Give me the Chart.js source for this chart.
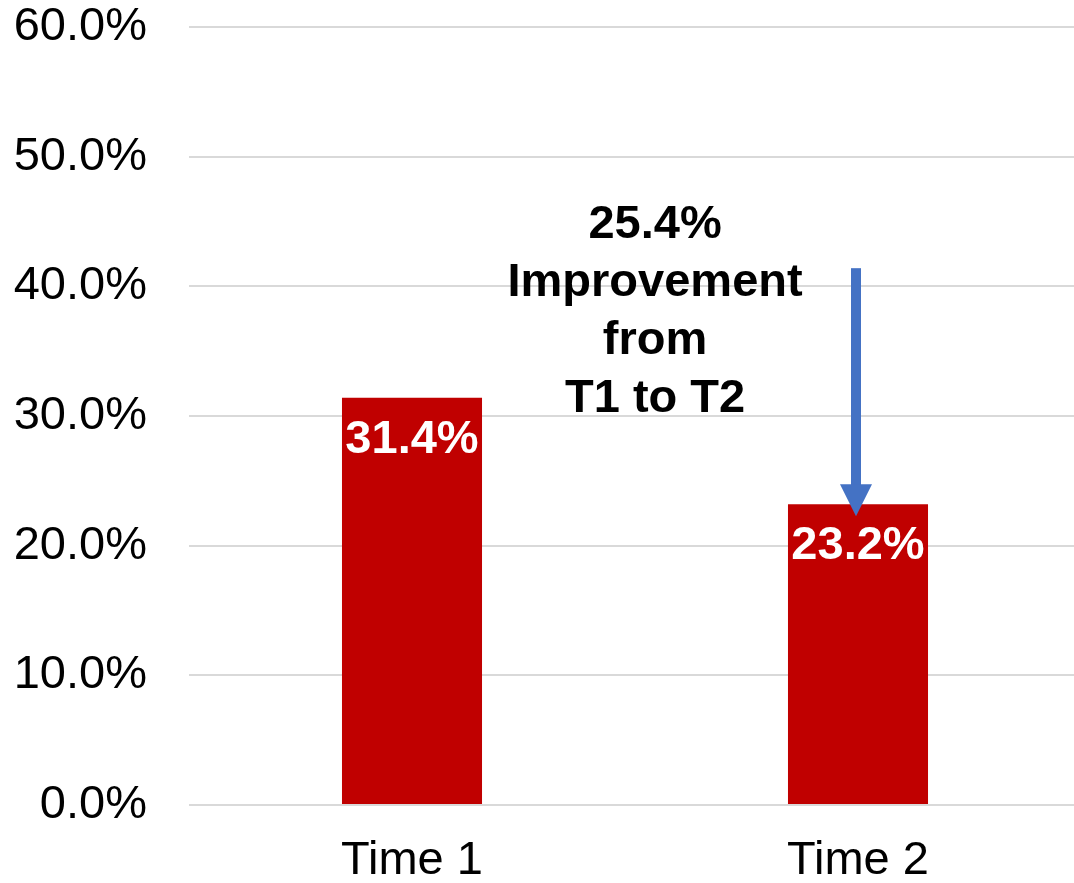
<!DOCTYPE html>
<html>
<head>
<meta charset="utf-8">
<title>Time 1 vs Time 2</title>
<script src="https://cdn.jsdelivr.net/npm/chart.js@4/dist/chart.umd.min.js"></script>
<style>
  html, body { margin: 0; padding: 0; background: #ffffff; }
  #wrap { position: relative; width: 1074px; height: 883px; }
</style>
</head>
<body>
<div id="wrap"><canvas id="chart"></canvas></div>
<script>
// Rates at the two measurement points (percent)
const categories = ['Time 1', 'Time 2'];
const rates = [31.4, 23.2];
const yTicks = [0, 10, 20, 30, 40, 50, 60];
const noteLines = ['25.4%', 'Improvement', 'from', 'T1 to T2'];

const FONT = '"Liberation Sans", Arial, Helvetica, sans-serif';
const BAR_RED = '#C00000';
const ARROW_BLUE = '#4472C4';
const GRID_GREY = '#D9D9D9';

// Let the plot area run a little past the right edge of the canvas
const widenPlot = {
  id: 'widenPlot',
  afterLayout(chart) {
    const extra = 7;
    const xs = chart.scales.x;
    xs.right += extra;
    xs.width += extra;
    xs.configure();
    chart.chartArea.right += extra;
    chart.chartArea.width = chart.chartArea.right - chart.chartArea.left;
  }
};

// Value labels printed in white inside the top of each bar
const barValueLabels = {
  id: 'barValueLabels',
  afterDatasetsDraw(chart) {
    const ctx = chart.ctx;
    const meta = chart.getDatasetMeta(0);
    ctx.save();
    ctx.fillStyle = '#ffffff';
    ctx.font = 'bold 47px ' + FONT;
    ctx.textAlign = 'center';
    ctx.textBaseline = 'middle';
    meta.data.forEach((bar, i) => {
      ctx.fillText(rates[i].toFixed(1) + '%', bar.x, bar.y + 42);
    });
    ctx.restore();
  }
};

// Callout text and the downward arrow onto the second bar
const changeCallout = {
  id: 'changeCallout',
  afterDraw(chart) {
    const ctx = chart.ctx;
    const x = chart.scales.x;
    const y = chart.scales.y;
    const bar2 = chart.getDatasetMeta(0).data[1];

    ctx.save();
    ctx.fillStyle = '#000000';
    ctx.font = 'bold 47px ' + FONT;
    ctx.textAlign = 'center';
    ctx.textBaseline = 'alphabetic';
    const tx = x.getPixelForValue(0.545);
    const firstBase = y.getPixelForValue(43.7);
    noteLines.forEach((line, i) => {
      ctx.fillText(line, tx, firstBase + i * 58);
    });

    // arrow
    const ax = bar2.x - 2;
    const top = y.getPixelForValue(41.4);
    const tip = bar2.y + 12;
    const headLen = 32;
    const headHalf = 16;
    ctx.fillStyle = ARROW_BLUE;
    ctx.fillRect(ax - 5, top, 10, tip - headLen - top + 1);
    ctx.beginPath();
    ctx.moveTo(ax - headHalf, tip - headLen);
    ctx.lineTo(ax + headHalf, tip - headLen);
    ctx.lineTo(ax, tip);
    ctx.closePath();
    ctx.fill();
    ctx.restore();
  }
};

new Chart(document.getElementById('chart'), {
  type: 'bar',
  data: {
    labels: categories,
    datasets: [{
      data: rates,
      backgroundColor: BAR_RED,
      borderWidth: 0,
      categoryPercentage: 1.0,
      barPercentage: 0.314
    }]
  },
  options: {
    responsive: true,
    maintainAspectRatio: false,
    animation: false,
    layout: { padding: 0 },
    plugins: {
      legend: { display: false },
      tooltip: { enabled: false }
    },
    scales: {
      x: {
        grid: { display: false, drawTicks: false },
        border: { display: false },
        ticks: {
          color: '#000000',
          font: { family: FONT, size: 47 },
          padding: 28
        },
        afterFit(scale) { scale.height = 78; }
      },
      y: {
        min: 0,
        max: 60,
        afterBuildTicks(scale) { scale.ticks = yTicks.map(v => ({ value: v })); },
        grid: { color: GRID_GREY, lineWidth: 2, drawTicks: false },
        border: { display: false },
        ticks: {
          color: '#000000',
          font: { family: FONT, size: 47 },
          padding: 42,
          callback: (v) => Number(v).toFixed(1) + '%'
        },
        afterFit(scale) {
          scale.width = 189;
          scale.paddingTop = 27;
          scale.paddingBottom = 0;
        }
      }
    }
  },
  plugins: [widenPlot, barValueLabels, changeCallout]
});
</script>
</body>
</html>
